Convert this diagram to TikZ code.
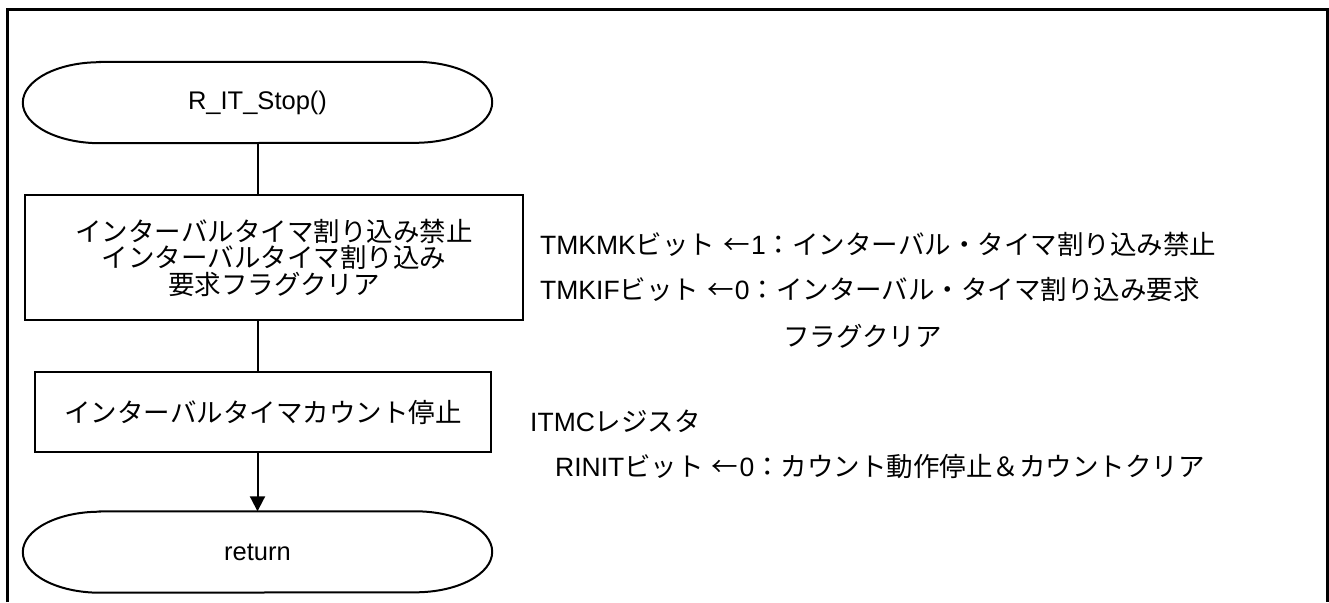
\documentclass[tikz,border=0pt]{standalone}
\usepackage{fontspec}
\setmainfont{Liberation Sans}
\newfontfamily\jpfont{Noto Sans CJK JP}
\usetikzlibrary{arrows.meta}

\newcommand{\fsz}{\fontsize{26.5}{26.5}\selectfont}
\newcommand{\jp}[1]{{\jpfont #1}}
\newcommand{\larr}{\hspace{0.3em}{\jpfont ←}\hspace{0.05em}}
% terminal outline round a named node
\newcommand{\termshape}[1]{%
  \draw[flow] ([xshift=77pt]#1.north west) -- ([xshift=-77pt]#1.north east)
    arc[start angle=90, end angle=-90, x radius=77pt, y radius=40.5pt]
    -- ([xshift=77pt]#1.south west)
    arc[start angle=270, end angle=90, x radius=77pt, y radius=40.5pt] -- cycle;}

\begin{document}
\begin{tikzpicture}[x=1pt, y=1pt,
    flow/.style={line width=2pt},
    term/.style={minimum width=469pt, minimum height=81pt, inner sep=0pt, font=\fontsize{25.5}{26}\selectfont},
    proc/.style={draw, line width=2pt, align=center, inner sep=0pt, font=\fsz\jpfont},
    note/.style={anchor=west, inner sep=0pt, font=\fsz}]
	\useasboundingbox (0,0) rectangle (1329,-602);
	\draw[line width=3pt] (7,-602) -- (7,-10) -- (1327,-10) -- (1327,-602);

	% flow
	\node[term] (start) at (257.5,-102.5) {R\_IT\_Stop()};
	\termshape{start}
	\node[proc, minimum width=498pt, minimum height=125pt] (clr) at (274,-257.5)
		{インターバルタイマ割り込み禁止\\インターバルタイマ割り込み\\要求フラグクリア};
	\node[proc, minimum width=456pt, minimum height=80pt] (cnt) at (263,-412)
		{インターバルタイマカウント停止};
	\node[term] (ret) at (257.5,-552) {return};
	\termshape{ret}

	\draw[flow] (start.south) -- (start.south |- clr.north);
	\draw[flow] (start.south |- clr.south) -- (start.south |- cnt.north);
	\draw[flow, -{Triangle[length=15pt, width=15pt]}] (start.south |- cnt.south) -- (ret.north);

	% notes
	\node[note] (tmkmk) at (540,-244) {TMKMK\jp{ビット}\larr 1\jp{：インターバル・タイマ割り込み禁止}};
	\node[note] (tmkif) at (540,-289) {TMKIF\jp{ビット}\larr 0\jp{：インターバル・タイマ割り込み要求}};
	\node[note] (flag) at (783,-336) {\jp{フラグクリア}};
	\node[note] (itmc) at (530,-421) {ITMC\jp{レジスタ}};
	\node[note] (rinit) at (555,-467) {RINIT\jp{ビット}\larr 0\jp{：カウント動作停止＆カウントクリア}};
\end{tikzpicture}
\end{document}
